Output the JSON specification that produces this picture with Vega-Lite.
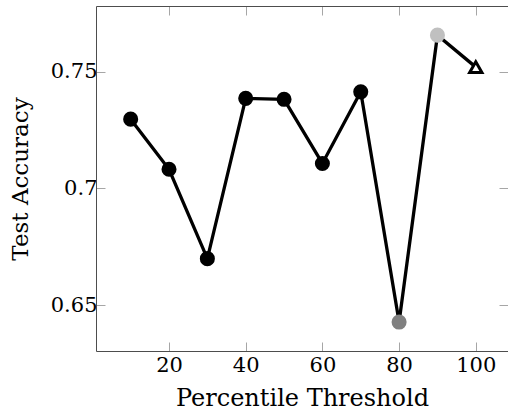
{
  "$schema": "https://vega.github.io/schema/vega-lite/v6.json",
  "width": 412,
  "height": 345,
  "autosize": {"type": "none"},
  "padding": {"left": 96, "top": 6, "right": 0, "bottom": 59},
  "background": "white",
  "config": {
    "view": {"stroke": null},
    "font": "DejaVu Serif",
    "axis": {
      "labelFont": "DejaVu Serif",
      "titleFont": "DejaVu Serif",
      "labelFontSize": 21,
      "titleFontSize": 24,
      "titleFontWeight": "normal",
      "labelColor": "black",
      "titleColor": "black",
      "domainColor": "#4d4d4d",
      "domainWidth": 1,
      "tickColor": "#a6a6a6",
      "tickWidth": 1,
      "tickSize": -9,
      "grid": false
    }
  },
  "data": {
    "values": [
      {"threshold": 10, "accuracy": 0.7297, "marker": "regular"},
      {"threshold": 20, "accuracy": 0.7082, "marker": "regular"},
      {"threshold": 30, "accuracy": 0.6699, "marker": "regular"},
      {"threshold": 40, "accuracy": 0.7386, "marker": "regular"},
      {"threshold": 50, "accuracy": 0.7382, "marker": "regular"},
      {"threshold": 60, "accuracy": 0.7107, "marker": "regular"},
      {"threshold": 70, "accuracy": 0.7414, "marker": "regular"},
      {"threshold": 80, "accuracy": 0.6427, "marker": "lowest"},
      {"threshold": 90, "accuracy": 0.7657, "marker": "highest"},
      {"threshold": 100, "accuracy": 0.752, "marker": "final"}
    ]
  },
  "encoding": {
    "x": {
      "field": "threshold",
      "type": "quantitative",
      "scale": {"domain": [0.96, 108.4], "nice": false, "zero": false},
      "axis": null
    },
    "y": {
      "field": "accuracy",
      "type": "quantitative",
      "scale": {"domain": [0.6303, 0.7782], "nice": false, "zero": false},
      "axis": null
    }
  },
  "layer": [
    {
      "mark": {"type": "line", "color": "black", "strokeWidth": 3.3, "strokeJoin": "miter"},
      "encoding": {
        "x": {
          "field": "threshold",
          "type": "quantitative",
          "axis": {
            "orient": "bottom",
            "values": [20, 40, 60, 80, 100],
            "title": "Percentile Threshold",
            "labelPadding": 12,
            "titlePadding": 11
          }
        },
        "y": {
          "field": "accuracy",
          "type": "quantitative",
          "axis": {
            "orient": "left",
            "values": [0.65, 0.7, 0.75],
            "format": "~g",
            "title": "Test Accuracy",
            "titleFontSize": 23,
            "labelPadding": 8,
            "titlePadding": 18
          }
        }
      }
    },
    {
      "transform": [{"filter": "datum.marker != 'final'"}],
      "mark": {"type": "point", "shape": "circle", "filled": true, "opacity": 1, "size": 227},
      "encoding": {
        "color": {
          "field": "marker",
          "type": "nominal",
          "scale": {"domain": ["regular", "lowest", "highest"], "range": ["#000000", "#808080", "#c0c0c0"]},
          "legend": null
        }
      }
    },
    {
      "transform": [{"filter": "datum.marker == 'final'"}],
      "mark": {"type": "point", "shape": "triangle-up", "filled": true, "fill": "white", "stroke": "black", "strokeWidth": 3, "opacity": 1, "size": 150}
    },
    {
      "mark": {"type": "point", "opacity": 0},
      "encoding": {
        "x": {
          "field": "threshold",
          "type": "quantitative",
          "axis": {"orient": "top", "values": [20, 40, 60, 80, 100], "labels": false, "title": null}
        },
        "y": {
          "field": "accuracy",
          "type": "quantitative",
          "axis": {"orient": "right", "values": [0.65, 0.7, 0.75], "labels": false, "title": null}
        }
      }
    }
  ],
  "resolve": {"axis": {"x": "independent", "y": "independent"}}
}
